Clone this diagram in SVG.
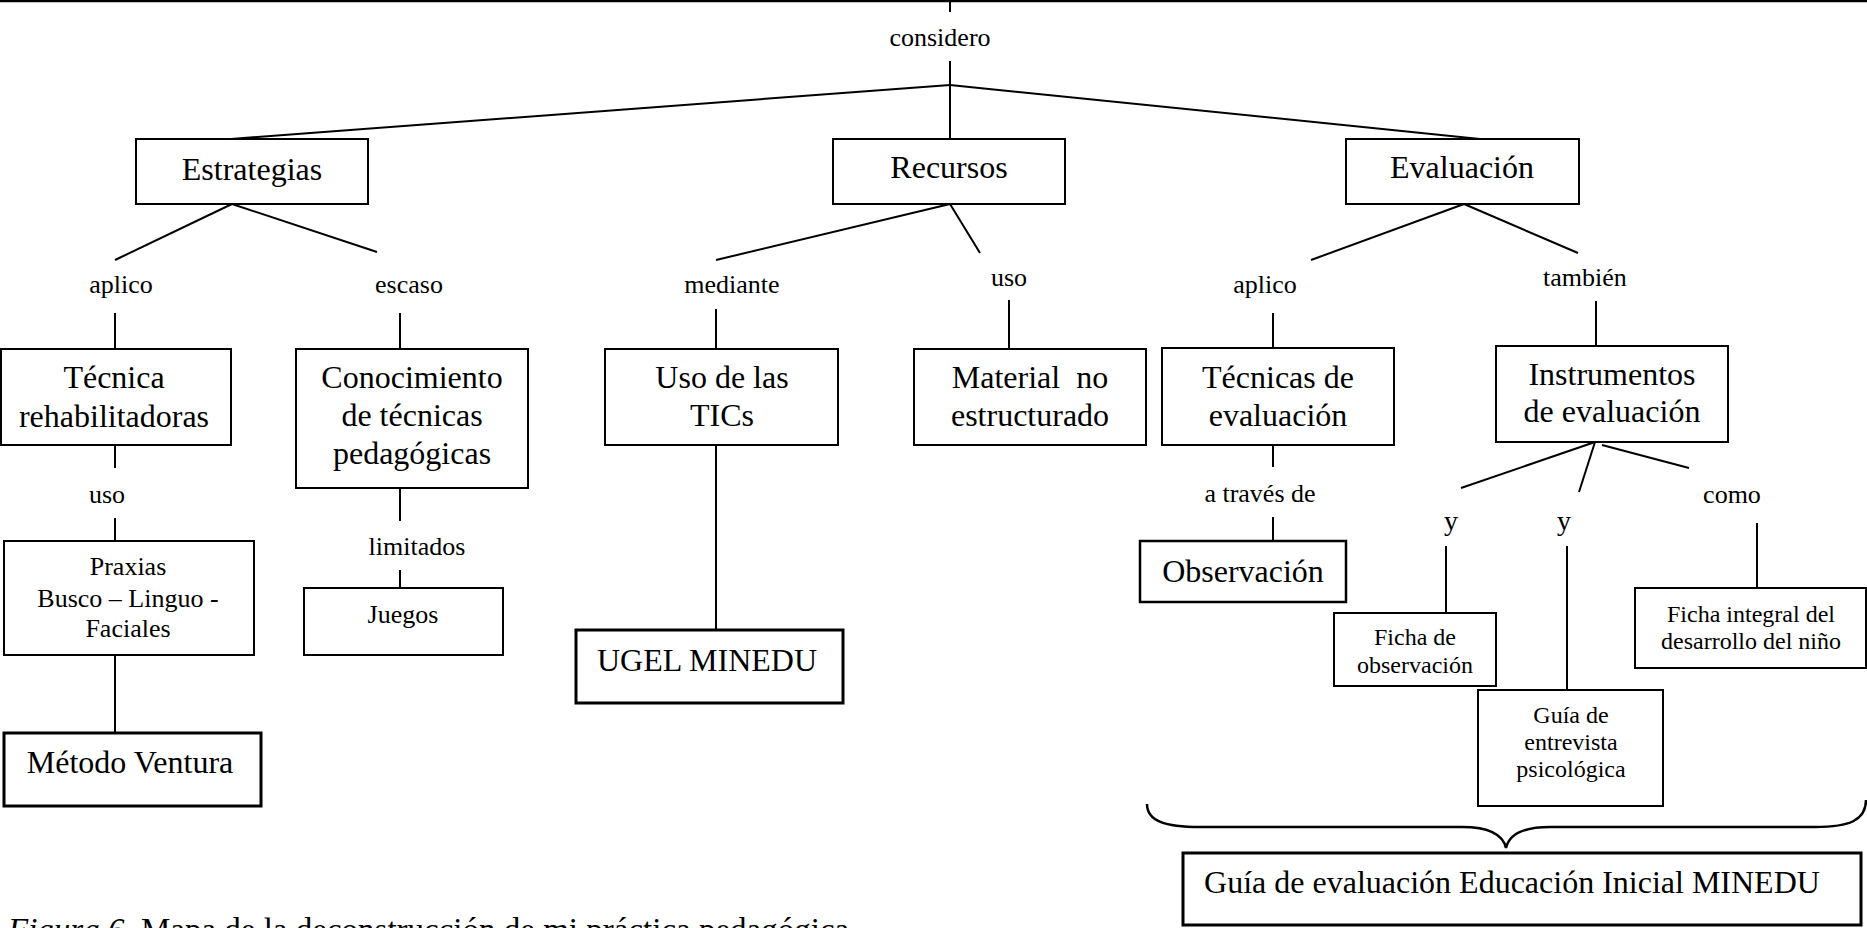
<svg xmlns="http://www.w3.org/2000/svg" width="1867" height="928" viewBox="0 0 1867 928">
<style>
text{font-family:"Liberation Serif","Times New Roman",serif;fill:#000;text-anchor:middle}
.n{font-size:32px}
.m{font-size:26px}
.s{font-size:24px}
.l{font-size:26px}
.box{fill:#fff;stroke:#000;stroke-width:2}
.thick{stroke-width:3}
.c line,.c path{stroke:#000;stroke-width:2;fill:none}
</style>
<rect width="1867" height="928" fill="#fff"/>
<g class="c" id="connectors">
<line x1="0" y1="1" x2="1867" y2="1" style="stroke-width:2.5"/>
<line x1="950" y1="0" x2="950" y2="12"/>
<line x1="950" y1="61" x2="950" y2="139"/>
<line x1="950" y1="85" x2="231" y2="139"/>
<line x1="950" y1="85" x2="1480" y2="139"/>
<line x1="232" y1="204" x2="115" y2="260"/>
<line x1="232" y1="204" x2="377" y2="252"/>
<line x1="115" y1="313" x2="115" y2="349"/>
<line x1="400" y1="313" x2="400" y2="349"/>
<line x1="115" y1="445" x2="115" y2="468"/>
<line x1="115" y1="518" x2="115" y2="541"/>
<line x1="115" y1="655" x2="115" y2="733"/>
<line x1="400" y1="488" x2="400" y2="521"/>
<line x1="400" y1="570" x2="400" y2="588"/>
<line x1="950" y1="204" x2="716" y2="260"/>
<line x1="950" y1="204" x2="980" y2="253"/>
<line x1="716" y1="309" x2="716" y2="349"/>
<line x1="1009" y1="300" x2="1009" y2="349"/>
<line x1="716" y1="445" x2="716" y2="630"/>
<line x1="1464" y1="204" x2="1311" y2="260"/>
<line x1="1464" y1="204" x2="1578" y2="253"/>
<line x1="1273" y1="313" x2="1273" y2="348"/>
<line x1="1596" y1="301" x2="1596" y2="346"/>
<line x1="1273" y1="445" x2="1273" y2="467"/>
<line x1="1273" y1="517" x2="1273" y2="541"/>
<line x1="1595" y1="442" x2="1461" y2="488"/>
<line x1="1595" y1="442" x2="1579" y2="492"/>
<line x1="1602" y1="445" x2="1689" y2="468"/>
<line x1="1446" y1="546" x2="1446" y2="613"/>
<line x1="1567" y1="546" x2="1567" y2="690"/>
<line x1="1757" y1="523" x2="1757" y2="588"/>
<path d="M1147,804 C1147,821 1165,827 1200,827 L1462,827 C1490,827 1503,835 1506,848 C1509,835 1522,827 1550,827 L1815,827 C1850,827 1866,820 1866,800" style="stroke-width:2.5"/>
</g>
<g id="label-considero"><text class="l" x="940" y="46">considero</text></g>
<g id="node-estrategias"><rect class="box" x="136" y="139" width="232" height="65"/><text class="n" x="252" y="180">Estrategias</text></g>
<g id="node-recursos"><rect class="box" x="833" y="139" width="232" height="65"/><text class="n" x="949" y="178">Recursos</text></g>
<g id="node-evaluacion"><rect class="box" x="1346" y="139" width="233" height="65"/><text class="n" x="1462" y="178">Evaluación</text></g>
<g id="label-aplico1"><text class="l" x="121" y="293">aplico</text></g>
<g id="label-escaso"><text class="l" x="409" y="293">escaso</text></g>
<g id="label-mediante"><text class="l" x="732" y="293">mediante</text></g>
<g id="label-uso2"><text class="l" x="1009" y="286">uso</text></g>
<g id="label-aplico2"><text class="l" x="1265" y="293">aplico</text></g>
<g id="label-tambien"><text class="l" x="1585" y="286">también</text></g>
<g id="node-tecnica"><rect class="box" x="1" y="349" width="230" height="96"/><text class="n" x="114" y="388">Técnica</text><text class="n" x="114" y="427">rehabilitadoras</text></g>
<g id="node-conocimiento"><rect class="box" x="296" y="349" width="232" height="139"/><text class="n" x="412" y="388">Conocimiento</text><text class="n" x="412" y="426">de técnicas</text><text class="n" x="412" y="464">pedagógicas</text></g>
<g id="node-tics"><rect class="box" x="605" y="349" width="233" height="96"/><text class="n" x="722" y="388">Uso de las</text><text class="n" x="722" y="426">TICs</text></g>
<g id="node-material"><rect class="box" x="914" y="349" width="232" height="96"/><text class="n" x="1030" y="388" xml:space="preserve">Material  no</text><text class="n" x="1030" y="426">estructurado</text></g>
<g id="node-tecnicas-eval"><rect class="box" x="1162" y="348" width="232" height="97"/><text class="n" x="1278" y="388">Técnicas de</text><text class="n" x="1278" y="426">evaluación</text></g>
<g id="node-instrumentos"><rect class="box" x="1496" y="346" width="232" height="96"/><text class="n" x="1612" y="385">Instrumentos</text><text class="n" x="1612" y="422">de evaluación</text></g>
<g id="label-uso1"><text class="l" x="107" y="503">uso</text></g>
<g id="label-limitados"><text class="l" x="417" y="555">limitados</text></g>
<g id="label-atraves"><text class="l" x="1260" y="502">a través de</text></g>
<g id="label-y1"><text class="l" x="1451" y="530" style="font-size:28px">y</text></g>
<g id="label-y2"><text class="l" x="1564" y="530" style="font-size:28px">y</text></g>
<g id="label-como"><text class="l" x="1732" y="503">como</text></g>
<g id="node-praxias"><rect class="box" x="4" y="541" width="250" height="114"/><text class="m" x="128" y="575">Praxias</text><text class="m" x="128" y="607">Busco – Linguo -</text><text class="m" x="128" y="637">Faciales</text></g>
<g id="node-juegos"><rect class="box" x="304" y="588" width="199" height="67"/><text class="m" x="403" y="623">Juegos</text></g>
<g id="node-metodo"><rect class="box thick" x="4" y="733" width="257" height="73"/><text class="n" x="130" y="773">Método Ventura</text></g>
<g id="node-ugel"><rect class="box thick" x="576" y="630" width="267" height="73"/><text class="n" x="707" y="671">UGEL MINEDU</text></g>
<g id="node-observacion"><rect class="box" x="1140" y="541" width="206" height="61" style="stroke-width:2.5"/><text class="n" x="1243" y="582">Observación</text></g>
<g id="node-ficha-obs"><rect class="box" x="1334" y="613" width="162" height="73"/><text class="s" x="1415" y="645">Ficha de</text><text class="s" x="1415" y="673">observación</text></g>
<g id="node-guia-entrevista"><rect class="box" x="1478" y="690" width="185" height="116"/><text class="s" x="1571" y="723">Guía de</text><text class="s" x="1571" y="750">entrevista</text><text class="s" x="1571" y="777">psicológica</text></g>
<g id="node-ficha-integral"><rect class="box" x="1635" y="588" width="231" height="80"/><text class="s" x="1751" y="622">Ficha integral del</text><text class="s" x="1751" y="649">desarrollo del niño</text></g>
<g id="node-guia-eval"><rect class="box thick" x="1183" y="853" width="678" height="72"/><text class="n" x="1512" y="893">Guía de evaluación Educación Inicial MINEDU</text></g>
<g id="caption"><text x="8" y="941" style="font-size:33px;text-anchor:start"><tspan font-style="italic">Figura 6.</tspan> Mapa de la deconstrucción de mi práctica pedagógica</text></g>
</svg>
